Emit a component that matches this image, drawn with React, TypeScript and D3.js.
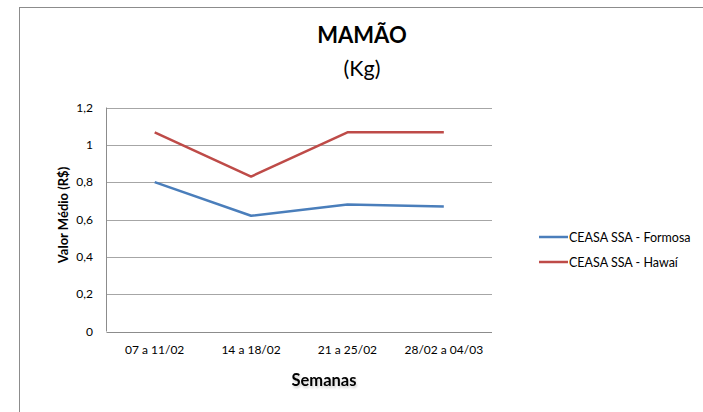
import React from "react";
import * as d3 from "d3";

const categories = ["07 a 11/02", "14 a 18/02", "21 a 25/02", "28/02 a 04/03"];
const formosa = [0.8, 0.62, 0.68, 0.67];
const hawai = [1.067, 0.83, 1.067, 1.067];
const yTicks = [0, 0.2, 0.4, 0.6, 0.8, 1, 1.2];
const seriesNames = ["CEASA SSA - Formosa", "CEASA SSA - Hawaí"];
const seriesColors = ["#4a7ebb", "#be4b48"];

const FONT = "Lato, 'Open Sans', sans-serif";

export default function App() {
  const W = 703, H = 412;
  const left = 106.5, right = 492, top = 107.5, bottom = 331.5;
  const x = d3.scaleBand<string>().domain(categories).range([left, right]);
  const y = d3.scaleLinear().domain([0, 1.2]).range([bottom, top]);
  const line = d3
    .line<number>()
    .x((_, i) => (x(categories[i]) as number) + x.bandwidth() / 2)
    .y((d) => y(d));
  const series = [formosa, hawai];
  const fmt = (v: number) => String(+v.toFixed(1)).replace(".", ",");

  return (
    <svg width={W} height={H} style={{ position: "absolute", left: 0, top: 0 }} fontFamily={FONT}>
      <defs>
        <filter id="sh" x="-10%" y="-30%" width="130%" height="180%">
          <feGaussianBlur in="SourceAlpha" stdDeviation="1" />
          <feOffset dx="1" dy="1.5" result="b" />
          <feComponentTransfer><feFuncA type="linear" slope="0.2" /></feComponentTransfer>
          <feMerge><feMergeNode /><feMergeNode in="SourceGraphic" /></feMerge>
        </filter>
      </defs>
      <rect x={0} y={0} width={W} height={H} fill="#fff" />
      <rect x={19.5} y={7.5} width={720} height={420} fill="#fff" stroke="#8c8c8c" strokeWidth={1} />
      <text x={362} y={43} textAnchor="middle" fontWeight="bold" fontSize={22} fill="#000">MAMÃO</text>
      <text x={362} y={76} textAnchor="middle" fontSize={21.5} fill="#000">(Kg)</text>
      {yTicks.map((t) => (
        <g key={t}>
          <line x1={left} x2={right} y1={Math.round(y(t)) + 0.5} y2={Math.round(y(t)) + 0.5}
            stroke={t === 0 ? "#8c8c8c" : "#a6a6a6"} strokeWidth={1} />
          <text x={93} y={y(t) + 4} textAnchor="end" fontSize={12} fill="#000">{fmt(t)}</text>
        </g>
      ))}
      <line x1={left} x2={left} y1={top} y2={bottom} stroke="#8c8c8c" strokeWidth={1} />
      {categories.map((c) => (
        <text key={c} x={(x(c) as number) + x.bandwidth() / 2} y={354} textAnchor="middle" fontSize={12} fill="#000">{c}</text>
      ))}
      {series.map((s, i) => (
        <path key={i} d={line(s) as string} fill="none" stroke={seriesColors[i]} strokeWidth={2.5} strokeLinejoin="round" />
      ))}
      <text x={324} y={386} textAnchor="middle" fontWeight="bold" fontSize={16.5} fill="#000" filter="url(#sh)">Semanas</text>
      <text transform={`translate(68,215) rotate(-90)`} textAnchor="middle" fontWeight="bold" fontSize={13} fill="#000">Valor Médio (R$)</text>
      {seriesNames.map((n, i) => (
        <g key={n}>
          <line x1={539} x2={568} y1={237 + i * 25} y2={237 + i * 25} stroke={seriesColors[i]} strokeWidth={2.5} />
          <text x={569} y={241.5 + i * 25} fontSize={12.5} fill="#000">{n}</text>
        </g>
      ))}
    </svg>
  );
}
